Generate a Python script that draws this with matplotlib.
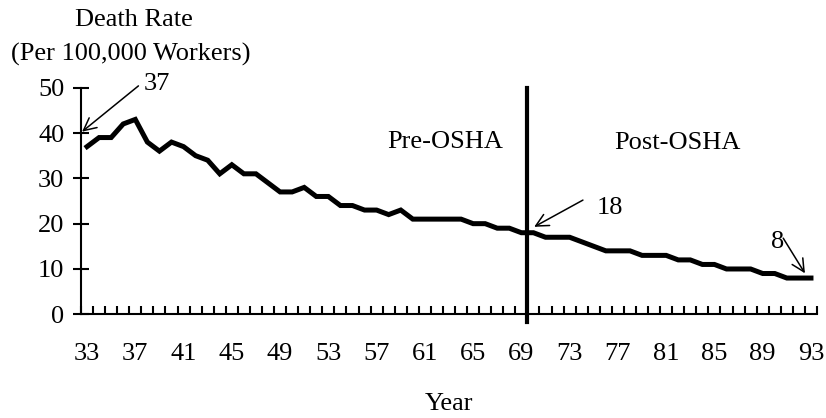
import matplotlib
matplotlib.use("Agg")
import matplotlib.pyplot as plt
import numpy as np

years = list(range(33, 94))
death_rate = [37, 39, 39, 42, 43, 38, 36, 38, 37, 35,
              34, 31, 33, 31, 31, 29, 27, 27, 28, 26,
              26, 24, 24, 23, 23, 22, 23, 21, 21, 21,
              21, 21, 20, 20, 19, 19, 18, 18, 17, 17,
              17, 16, 15, 14, 14, 14, 13, 13, 13, 12,
              12, 11, 11, 10, 10, 10, 9, 9, 8, 8, 8]
tick_labels = [str(y) for y in years[::4]]
osha_year = 69.5

plt.rcParams['font.family'] = ['Liberation Serif', 'DejaVu Serif']
FS = 19

W, H = 826, 418
fig = plt.figure(figsize=(W / 100, H / 100), dpi=100)
ax = fig.add_axes([81 / W, 1 - 314.3 / H, (817 - 81) / W, (314.3 - 87.7) / H])

idx = np.arange(len(years))
ax.plot(idx, death_rate, color='black', lw=3.6, solid_joinstyle='miter', clip_on=False)

ax.set_xlim(-0.5, len(years) - 0.5)
ax.set_ylim(0, 50)

for s in ['top', 'right']:
    ax.spines[s].set_visible(False)
for s in ['left', 'bottom']:
    ax.spines[s].set_linewidth(1.5)

ax.set_yticks([0, 10, 20, 30, 40, 50])
ax.set_yticklabels(['0', '10', '20', '30', '40', '50'], fontsize=FS)
ax.tick_params(axis='y', direction='inout', length=12, width=1.5, pad=6)

ax.set_xticks(idx[::4])
ax.set_xticklabels(tick_labels, fontsize=FS)
ax.tick_params(axis='x', which='major', length=0, pad=21)
ax.set_xticks(np.arange(-0.5, len(years), 1.0), minor=True)
ax.tick_params(axis='x', which='minor', direction='in', length=6, width=1.5)

# OSHA divider
xo = years.index(69) + (osha_year - 69)
ax.plot([xo, xo], [-1.8, 50], color='black', lw=3, clip_on=False)

ax.text(29.7, 38.0, 'Pre-OSHA', fontsize=FS, ha='center', va='center')
ax.text(48.9, 37.8, 'Post-OSHA', fontsize=FS, ha='center', va='center')

arrow = dict(arrowstyle='->,head_length=0.6,head_width=0.3', lw=1.1, color='black',
             mutation_scale=15, shrinkA=0, shrinkB=0)
ax.annotate('', xy=(-0.41, 40.3), xytext=(4.26, 50.4), arrowprops=arrow, annotation_clip=False)
ax.text(5.8, 50.8, str(death_rate[0]), fontsize=FS, ha='center', va='center', clip_on=False)

ax.annotate('', xy=(37.06, 19.3), xytext=(41.1, 25.2), arrowprops=arrow, annotation_clip=False)
ax.text(43.3, 23.5, str(death_rate[years.index(69)]), fontsize=FS, ha='center', va='center')

ax.annotate('', xy=(59.5, 9.05), xytext=(57.7, 16.8), arrowprops=arrow, annotation_clip=False)
ax.text(57.2, 15.9, str(death_rate[-1]), fontsize=FS, ha='center', va='center')

fig.text(134 / W, 1 - 20 / H, 'Death Rate', fontsize=FS, ha='center', va='center')
fig.text(131 / W, 1 - 54 / H, '(Per 100,000 Workers)', fontsize=FS, ha='center', va='center')
fig.text(449 / W, 1 - 404 / H, 'Year', fontsize=FS, ha='center', va='center')

fig.savefig('out.png', dpi=100)
